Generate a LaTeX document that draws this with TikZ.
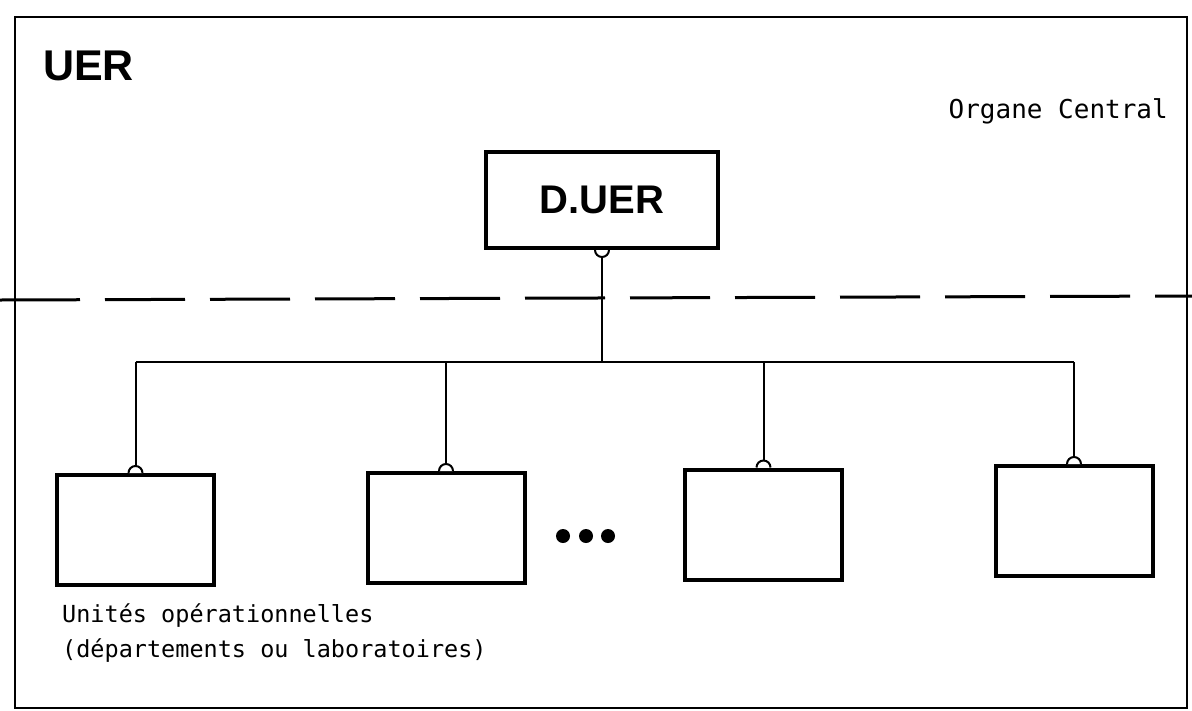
\documentclass[tikz,border=0pt]{standalone}
\usepackage{fontspec}
\setmainfont{Liberation Sans}
\newfontfamily\typefont{DejaVu Sans Mono}
\usepackage{tikz}
\tikzset{
	unit/.style={draw, line width=4pt, minimum width=157pt, minimum height=110pt, inner sep=0pt},
	conn/.style={line width=2pt},
	socket/.style={line width=2pt, fill=white},
	label/.style={inner sep=0pt, font=\typefont\fontsize{23.5}{23.5}\selectfont},
}

\begin{document}
\begin{tikzpicture}[x=1pt,y=-1pt]
			\pgfmathsetmacro{\r}{7}
			\pgfmathsetmacro{\busy}{362}
			\useasboundingbox (0,0) rectangle (1192,710);
			% frame and split line
			\draw[line width=2.5pt] (15,17) rectangle (1187,708);
			\draw[line width=3pt, dash pattern=on 80pt off 25pt] (0,300) -- (1192,296);
			\node[anchor=base west, inner sep=0pt, font=\fontsize{43}{43}\selectfont\bfseries] (title) at (43,80) {UER};
			\node[label, anchor=base east, font=\typefont\fontsize{26}{26}\selectfont] (central) at (1168,118) {Organe Central};
			% boxes
			\node[unit, minimum width=232pt, minimum height=96pt, font=\fontsize{40}{40}\selectfont\bfseries] (duer) at (602,200) {D.UER};
			\node[unit] (u1) at (135.5,530) {};
			\node[unit] (u2) at (446,528) {};
			\node[unit] (u3) at (763.5,524.5) {};
			\node[unit] (u4) at (1074,521) {};
			\node (dots) at (586,536) {};
			\foreach \dx in {-23,0,22}
				\fill ([xshift=\dx pt]dots.center) circle[radius=\r];
			% connectors
			\coordinate (busline) at (0,\busy);
			\draw[conn] ([yshift=-\r pt]duer.south) -- (duer.south |- busline);
			\draw[socket] ([xshift=-\r pt]duer.south) arc[start angle=180, end angle=0, radius=\r];
			\draw[conn] (u1.north |- busline) -- (u4.north |- busline);
			\foreach \u in {u1,u2,u3,u4}{
				\draw[conn] ([yshift=\r pt]\u.north) -- (\u.north |- busline);
				\draw[socket] ([xshift=-\r pt]\u.north) arc[start angle=180, end angle=360, radius=\r];
			}
			\node[label, anchor=base west] (ops) at (62,622) {Unités opérationnelles};
			\node[label, anchor=base west] (opsb) at (62,657) {(départements ou laboratoires)};
		\end{tikzpicture}
\end{document}
